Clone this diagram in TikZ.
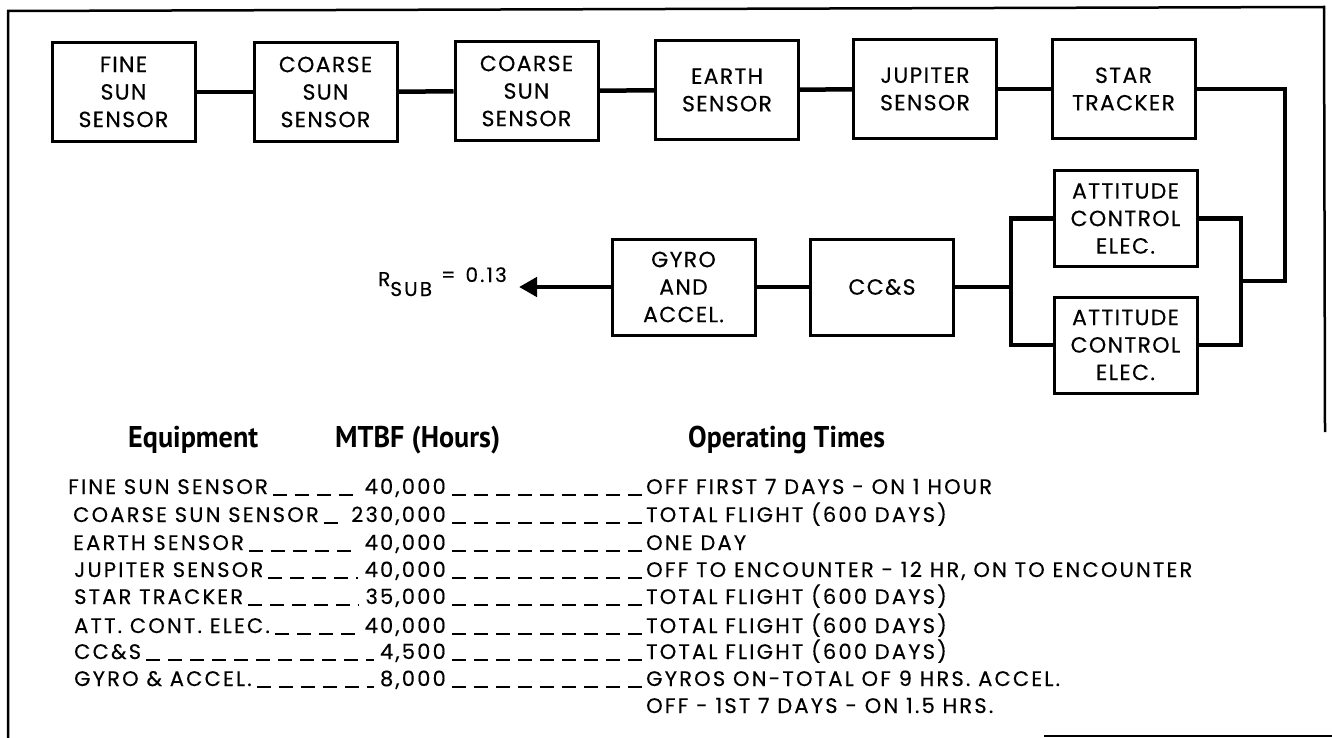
\documentclass[tikz,border=0pt]{standalone}
\usepackage{fontspec}
\usepackage{graphicx}
\setmainfont{Poppins}[FakeBold=0.35]
\newfontfamily\boxfont{Poppins}[LetterSpace=6, FakeBold=0.35]
\newfontfamily\tabfont{Poppins}[LetterSpace=10.5, FakeBold=0.35]
\newfontfamily\hdfont{PT Sans}
\usetikzlibrary{arrows.meta}
\begin{document}
\begin{tikzpicture}[x=1pt,y=-1pt,
  blk/.style={draw, line width=3pt, minimum width=143pt, minimum height=99pt, inner sep=0pt, align=center, font=\boxfont\fontsize{22}{27.5}\selectfont},
  blkb/.style={blk, minimum height=96pt},
  wire/.style={line width=4.5pt},
  frm/.style={line width=2.5pt},
  tab/.style={inner sep=0pt, font=\tabfont\fontsize{21}{22}\selectfont},
  lead/.style={line width=1.8pt, dash pattern=on 14pt off 8pt},
  hd/.style={inner sep=0pt, anchor=base west, font=\hdfont\bfseries\fontsize{30}{32}\selectfont}
]
\useasboundingbox (0,0) rectangle (1332,738);
% frame
\draw[frm] (8,738) -- (8,11) -- (1324,7) -- (1325,432);
\draw[frm] (1044,736) -- (1332,736);
% row 1
\node[blk] (fine)  at (123.5,92) {FINE\\SUN\\SENSOR};
\node[blk] (csa)   at (325.5,92) {COARSE\\SUN\\SENSOR};
\node[blk] (csb)   at (526.5,91) {COARSE\\SUN\\SENSOR};
\node[blk] (earth) at (727,90) {EARTH\\SENSOR};
\node[blk] (jup)   at (925,89) {JUPITER\\SENSOR};
\node[blk] (star)  at (1123.5,89) {STAR\\TRACKER};
\draw[wire] (fine) -- (csa);
\draw[wire] (csa) -- (csb);
\draw[wire] (csb) -- (earth);
\draw[wire] (earth) -- (jup);
\draw[wire] (jup) -- (star);
% row 2
\node[blkb] (gyro) at (683.5,287) {GYRO\\AND\\ACCEL.};
\node[blkb] (ccs)  at (882,287) {CC\&S};
\node[blkb] (atta) at (1125.5,218.5) {ATTITUDE\\CONTROL\\ELEC.};
\node[blkb] (attb) at (1125.5,345) {ATTITUDE\\CONTROL\\ELEC.};
\coordinate (sr) at (1285,281);
\coordinate (rj) at (1241,281);
\coordinate (lj) at (1011,287);
\coordinate (out) at (519,287);
\draw[wire] (star.east) -| (sr) -- (rj);
\draw[wire] (atta.east) -| (rj |- attb.east) -- (attb.east);
\draw[wire] (atta.west) -| (lj |- attb.west) -- (attb.west);
\draw[wire] (ccs.east) -- (lj);
\draw[wire] (ccs.west) -- (gyro.east);
\draw[wire, -{Triangle[length=18pt,width=19pt]}] (gyro.west) -- (out);
\node[anchor=base west, inner sep=0pt, font=\tabfont\fontsize{20}{22}\selectfont] (rsub) at (378,286) {R\raisebox{-10pt}{SUB}\hspace{9pt}\raisebox{4pt}{=\hspace{10pt}0.13}};
% headers
\node[hd] (h1) at (128,447) {\resizebox{130pt}{\height}{Equipment}};
\node[hd] (h2) at (335,447) {\resizebox{165pt}{\height}{MTBF (Hours)}};
\node[hd] (h3) at (688,447) {\resizebox{197pt}{\height}{Operating Times}};
% table
\foreach \i/\x/\y/\nm/\num/\op in {
  1/68/494/FINE SUN SENSOR/40{,}000/OFF FIRST 7 DAYS - ON 1 HOUR,
  2/73/522/COARSE SUN SENSOR/230{,}000/TOTAL FLIGHT (600 DAYS),
  3/73/550/EARTH SENSOR/40{,}000/ONE DAY,
  4/74/577/JUPITER SENSOR/40{,}000/{OFF TO ENCOUNTER - 12 HR, ON TO ENCOUNTER},
  5/74/604/STAR TRACKER/35{,}000/TOTAL FLIGHT (600 DAYS),
  6/74/633/ATT. CONT. ELEC./40{,}000/TOTAL FLIGHT (600 DAYS),
  7/74/659/CC\&S/4{,}500/TOTAL FLIGHT (600 DAYS),
  8/74/686/GYRO \& ACCEL./8{,}000/GYROS ON-TOTAL OF 9 HRS. ACCEL.}{
  \node[tab, anchor=base west] (n\i) at (\x,\y) {\nm};
  \node[tab, anchor=base east] (m\i) at (446,\y) {\num};
  \node[tab, anchor=base west] (o\i) at (646,\y) {\op};
  \draw[lead] ([xshift=5pt,yshift=-1pt]n\i.base east) -- ([xshift=-6pt,yshift=-1pt]m\i.base west);
  \draw[lead] ([xshift=6pt,yshift=-1pt]m\i.base east) -- ([xshift=-3pt,yshift=-1pt]o\i.base west);
}
\node[tab, anchor=base west] (o9) at (646,713) {OFF - 1ST 7 DAYS - ON 1.5 HRS.};
\end{tikzpicture}
\end{document}
